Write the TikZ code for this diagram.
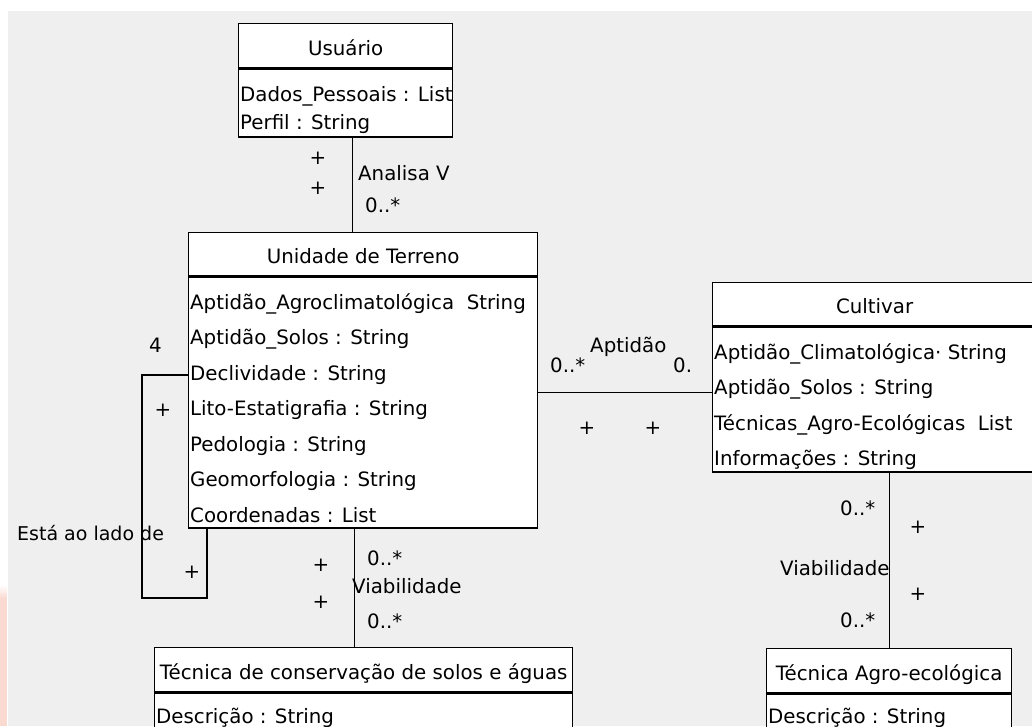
\documentclass[tikz,border=0pt]{standalone}
\usepackage{fontspec}
\setmainfont{DejaVu Sans}
\usetikzlibrary{positioning, calc}
\definecolor{bggray}{RGB}{239,239,239}
\definecolor{slidepink}{RGB}{250,218,208}
\tikzset{
  classname/.style={draw, fill=white, line width=1.3pt, inner sep=0pt,
    text height=20pt, text depth=1pt, anchor=north west},
  classbody/.style={draw, fill=white, line width=1.3pt, inner sep=0pt},
  attr/.style={inner sep=0pt, anchor=base west},
  lbl/.style={inner sep=0pt, anchor=base west},
  plussign/.style={inner sep=0pt},
  assoc/.style={line width=1.4pt}
}

\begin{document}
\begin{tikzpicture}[x=1pt, y=-1pt, font=\fontsize{19.8}{24}\selectfont]
    % background
    \useasboundingbox (0, 0) rectangle (1032, 726);
    \fill[white] (0, 0) rectangle (1032, 726);
    \fill[bggray] (8, 11) rectangle (1032, 726);
    \shade[top color=white, bottom color=slidepink] (0, 585) rectangle (7, 598);
    \fill[slidepink] (0, 598) rectangle (7, 726);
    % class 1. Usuario
    \begin{scope}
        \node[classname, minimum width=214, minimum height=44] (usr) at (238, 23) {Usuário};
        \node[classbody, minimum width=214, minimum height=68, below=0pt of usr] (usrA) {};
        \foreach \txt [count=\i] in {Dados\_Pessoais : List, Perfil : String}{
            \node[attr] (usr-\i) at ([xshift=2, yshift={-33-(\i-1)*28}]usrA.north west) {\txt};
        }
    \end{scope}
    % class 2. Unidade de Terreno
    \begin{scope}
        \node[classname, minimum width=349, minimum height=43] (unid) at (188, 232) {Unidade de Terreno};
        \node[classbody, minimum width=349, minimum height=251, below=0pt of unid] (unidA) {};
        \foreach \txt [count=\i] in {Aptidão\_Agroclimatológica\ \ String, Aptidão\_Solos : String,
            Declividade : String, Lito-Estatigrafia : String, Pedologia : String,
            Geomorfologia : String, Coordenadas : List}{
            \node[attr] (unid-\i) at ([xshift=2, yshift={-33-(\i-1)*35.5}]unidA.north west) {\txt};
        }
    \end{scope}
    % class 3. Cultivar
    \begin{scope}
        \node[classname, minimum width=324, minimum height=43] (cult) at (712, 282) {Cultivar};
        \node[classbody, minimum width=324, minimum height=145, below=0pt of cult] (cultA) {};
        \foreach \txt [count=\i] in {Aptidão\_Climatológica· String, Aptidão\_Solos : String,
            Técnicas\_Agro-Ecológicas\ \ List, Informações : String}{
            \node[attr] (cult-\i) at ([xshift=2, yshift={-33-(\i-1)*35.5}]cultA.north west) {\txt};
        }
    \end{scope}
    % class 4. Tecnica de conservacao
    \begin{scope}
        \node[classname, minimum width=418, minimum height=44] (tcs) at (154, 647) {Técnica de conservação de solos e águas};
        \node[classbody, minimum width=418, minimum height=80, below=0pt of tcs] (tcsA) {};
        \node[attr] (tcs-1) at ([xshift=2, yshift=-31]tcsA.north west) {Descrição : String};
    \end{scope}
    % class 5. Tecnica agro-ecologica
    \begin{scope}
        \node[classname, minimum width=245, minimum height=44] (tae) at (766, 648) {Técnica Agro-ecológica};
        \node[classbody, minimum width=245, minimum height=80, below=0pt of tae] (taeA) {};
        \node[attr] (tae-1) at ([xshift=2, yshift=-30]taeA.north west) {Descrição : String};
    \end{scope}
    % associations
    % Usuario -- Unidade
    \draw[assoc] ([xshift=7]usrA.south) -- ([xshift=7]usrA.south |- unid.north);
    \node[plussign] (p1) at (318, 158) {+};
    \node[plussign] (p2) at (318, 188) {+};
    \node[lbl] (analisa) at (358, 180) {Analisa V};
    \node[lbl] (m1) at (365, 212) {0..*};
    % Unidade -- Unidade
    \draw[assoc] (unidA.west |- unid-3.west) -| ++(-46, 223) -| ([xshift=19]unidA.south west);
    \node[lbl] (four) at (149, 352) {4};
    \node[plussign] (p3) at (163, 410) {+};
    \node[lbl, font=\fontsize{19}{24}\selectfont] (lado) at (17, 540) {Está ao lado de};
    \node[plussign] (p4) at (192, 572) {+};
    % Unidade -- Tecnica de conservacao
    \draw[assoc] ([xshift=-8.5]unidA.south) -- ([xshift=-8.5]unidA.south |- tcs.north);
    \node[plussign] (p5) at (321, 565) {+};
    \node[plussign] (p6) at (321, 602) {+};
    \node[lbl] (m2) at (367, 565) {0..*};
    \node[lbl] (viab1) at (352, 593) {Viabilidade};
    \node[lbl] (m3) at (367, 628) {0..*};
    % Unidade -- Cultivar
    \draw[assoc] ([yshift=-66]cultA.north west) -- ([yshift=-66]cultA.north west -| unidA.east);
    \node[lbl] (m4) at (550, 372) {0..*};
    \node[lbl] (aptid) at (590, 352) {Aptidão};
    \node[lbl] (m5) at (673, 372) {0.};
    \node[plussign] (p7) at (587, 428) {+};
    \node[plussign] (p8) at (653, 428) {+};
    % Cultivar -- Tecnica agro-ecologica
    \draw[assoc] ([xshift=15]cultA.south) -- ([xshift=15]cultA.south |- tae.north);
    \node[lbl] (m6) at (840, 515) {0..*};
    \node[plussign] (p9) at (918, 527) {+};
    \node[lbl] (viab2) at (780, 575) {Viabilidade};
    \node[plussign] (p10) at (918, 594) {+};
    \node[lbl] (m7) at (840, 627) {0..*};
\end{tikzpicture}
\end{document}
